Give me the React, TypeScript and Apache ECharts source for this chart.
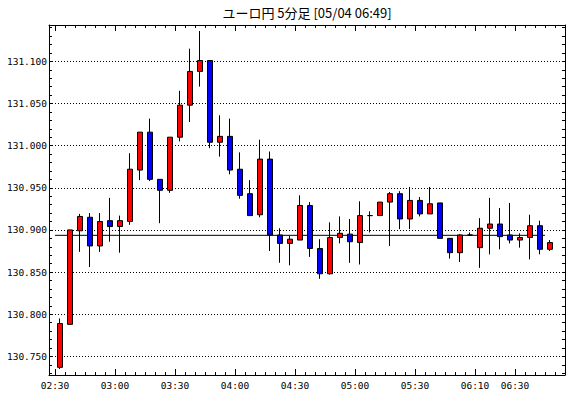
import React, { useEffect, useRef } from "react";
import * as echarts from "echarts";

const TITLE = "ユーロ円 5分足 [05/04 06:49]";

// 5-minute candles (one per slot)
const opens = [
  130.737, 130.788, 130.899, 130.915, 130.881, 130.911, 130.904, 130.910, 130.971, 131.016,
  130.960, 130.947, 131.010, 131.048, 131.088, 131.101, 131.004, 131.011, 130.972, 130.943,
  130.918, 130.984, 130.894, 130.884, 130.888, 130.929, 130.878, 130.848, 130.891, 130.895,
  130.885, 130.917, 130.917, 130.933, 130.943, 130.913, 130.935, 130.919, 130.932, 130.890,
  130.873, 130.894, 130.879, 130.902, 130.907, 130.894, 130.888, 130.891, 130.905, 130.877,
];
const closes = [
  130.789, 130.900, 130.916, 130.881, 130.910, 130.904, 130.911, 130.972, 131.016, 130.960,
  130.947, 131.010, 131.048, 131.088, 131.101, 131.004, 131.011, 130.971, 130.941, 130.917,
  130.984, 130.894, 130.884, 130.889, 130.929, 130.878, 130.848, 130.891, 130.896, 130.886,
  130.917, 130.917, 130.933, 130.943, 130.913, 130.935, 130.919, 130.931, 130.890, 130.873,
  130.894, 130.894, 130.902, 130.907, 130.892, 130.888, 130.891, 130.905, 130.877, 130.885,
];
const lows = [
  130.735, 130.788, 130.874, 130.856, 130.874, 130.886, 130.873, 130.906, 130.959, 130.958,
  130.908, 130.944, 131.005, 131.028, 131.070, 130.997, 130.987, 130.966, 130.937, 130.917,
  130.915, 130.875, 130.861, 130.858, 130.888, 130.868, 130.842, 130.847, 130.884, 130.861,
  130.859, 130.897, 130.917, 130.881, 130.901, 130.901, 130.916, 130.919, 130.890, 130.866,
  130.862, 130.894, 130.855, 130.871, 130.877, 130.884, 130.879, 130.865, 130.871, 130.875,
];
const highs = [
  130.795, 130.900, 130.919, 130.920, 130.920, 130.938, 130.917, 130.991, 131.016, 131.032,
  130.960, 131.010, 131.065, 131.115, 131.136, 131.101, 131.036, 131.032, 130.992, 130.959,
  131.007, 130.993, 130.902, 130.893, 130.941, 130.933, 130.889, 130.909, 130.916, 130.913,
  130.934, 130.922, 130.933, 130.945, 130.946, 130.951, 130.939, 130.951, 130.932, 130.890,
  130.895, 130.897, 130.914, 130.938, 130.926, 130.932, 130.896, 130.918, 130.911, 130.888,
];

const timeTickPositions = [0, 6, 12, 18, 24, 30, 36, 42, 46];
const timeTickLabels = ["02:30", "03:00", "03:30", "04:00", "04:30", "05:00", "05:30", "06:10", "06:30"];
const priceLabels = [130.75, 130.8, 130.85, 130.9, 130.95, 131.0, 131.05, 131.1];
const priceMinorTicks = [
  130.73, 130.74, 130.75, 130.76, 130.77, 130.78, 130.79, 130.8, 130.81, 130.82, 130.83, 130.84,
  130.85, 130.86, 130.87, 130.88, 130.89, 130.9, 130.91, 130.92, 130.93, 130.94, 130.95, 130.96,
  130.97, 130.98, 130.99, 131.0, 131.01, 131.02, 131.03, 131.04, 131.05, 131.06, 131.07, 131.08,
  131.09, 131.1, 131.11, 131.12, 131.13, 131.14,
];
const slotTicks = Array.from({ length: 51 }, (_, i) => i);
const basePrice = 130.8936;
const baseLineRange = [0, 49];

const Y_MIN = 130.7279;
const Y_MAX = 131.1431;
const X_MIN = -0.6;
const X_MAX = 51.0;

const LABEL_FONT = "DejaVu Sans Mono";

export default function App() {
  const ref = useRef<HTMLDivElement>(null);

  useEffect(() => {
    if (!ref.current) return;
    const chart = echarts.init(ref.current, undefined, { renderer: "svg" });

    const candleData = opens.map((o, i) => [i + 0.5, o, closes[i], lows[i], highs[i]]);
    const labelMap: Record<string, string> = {};
    timeTickPositions.forEach((p, i) => (labelMap[String(p)] = timeTickLabels[i]));

    const black = "#000000";
    const baseX = {
      type: "value",
      min: X_MIN,
      max: X_MAX,
      splitLine: { show: false },
      axisLine: { show: true, onZero: false, lineStyle: { color: black, width: 1 } },
    };

    const option: any = {
      animation: false,
      backgroundColor: "#ffffff",
      grid: { left: 49, right: 5, top: 25, bottom: 23, containLabel: false },
      graphic: [
        {
          type: "text",
          x: 307,
          y: 12,
          style: {
            text: TITLE,
            fill: black,
            font: '13px "Noto Sans CJK JP"',
            textAlign: "center",
            textVerticalAlign: "middle",
          },
        },
      ],
      xAxis: [
        {
          ...baseX,
          position: "bottom",
          axisTick: { show: true, inside: true, length: 3, customValues: slotTicks, lineStyle: { color: black } },
          axisLabel: {
            show: true,
            customValues: timeTickPositions,
            formatter: (v: number) => labelMap[String(Math.round(v))] ?? "",
            color: black,
            fontFamily: LABEL_FONT,
            fontSize: 9.5,
            margin: 5,
          },
        },
        {
          ...baseX,
          position: "top",
          axisTick: { show: true, inside: true, length: 3, customValues: slotTicks, lineStyle: { color: black } },
          axisLabel: { show: false },
        },
        {
          ...baseX,
          position: "bottom",
          axisLine: { show: false, onZero: false },
          axisTick: { show: true, inside: true, length: 6, customValues: timeTickPositions, lineStyle: { color: black } },
          axisLabel: { show: false },
        },
        {
          ...baseX,
          position: "top",
          axisLine: { show: false, onZero: false },
          axisTick: { show: true, inside: true, length: 6, customValues: timeTickPositions, lineStyle: { color: black } },
          axisLabel: { show: false },
        },
      ],
      yAxis: [
        {
          type: "value",
          min: Y_MIN,
          max: Y_MAX,
          position: "left",
          axisLine: { show: true, onZero: false, lineStyle: { color: black, width: 1 } },
          axisTick: { show: true, inside: true, length: 3, customValues: priceMinorTicks, lineStyle: { color: black } },
          axisLabel: {
            show: true,
            customValues: priceLabels,
            formatter: (v: number) => v.toFixed(3),
            color: black,
            fontFamily: LABEL_FONT,
            fontSize: 9.5,
            margin: 2,
          },
          splitLine: { show: false },
        },
        {
          type: "value",
          min: Y_MIN,
          max: Y_MAX,
          position: "right",
          axisLine: { show: true, onZero: false, lineStyle: { color: black, width: 1 } },
          axisTick: { show: true, inside: true, length: 3, customValues: priceMinorTicks, lineStyle: { color: black } },
          axisLabel: { show: false },
          splitLine: { show: false },
        },
        {
          type: "value",
          min: Y_MIN,
          max: Y_MAX,
          position: "left",
          axisLine: { show: false, onZero: false },
          axisTick: { show: false, customValues: priceLabels },
          axisLabel: { show: false },
          splitLine: { show: true, lineStyle: { color: black, width: 1, type: [1, 2] } },
        },
      ],
      series: [
        {
          type: "line",
          xAxisIndex: 0,
          yAxisIndex: 0,
          data: [
            [baseLineRange[0], basePrice],
            [baseLineRange[1], basePrice],
          ],
          symbol: "none",
          lineStyle: { color: black, width: 1 },
          z: 1,
          silent: true,
        },
        {
          type: "candlestick",
          xAxisIndex: 0,
          yAxisIndex: 0,
          data: candleData,
          barWidth: 6,
          z: 2,
          itemStyle: {
            color: "#ff0000",
            color0: "#0000ff",
            borderColor: black,
            borderColor0: black,
            borderWidth: 1,
          },
        },
      ],
    };

    chart.setOption(option);
    return () => chart.dispose();
  }, []);

  return (
    <div
      ref={ref}
      style={{ position: "fixed", left: 0, top: 0, width: 570, height: 398, background: "#fff" }}
    />
  );
}
